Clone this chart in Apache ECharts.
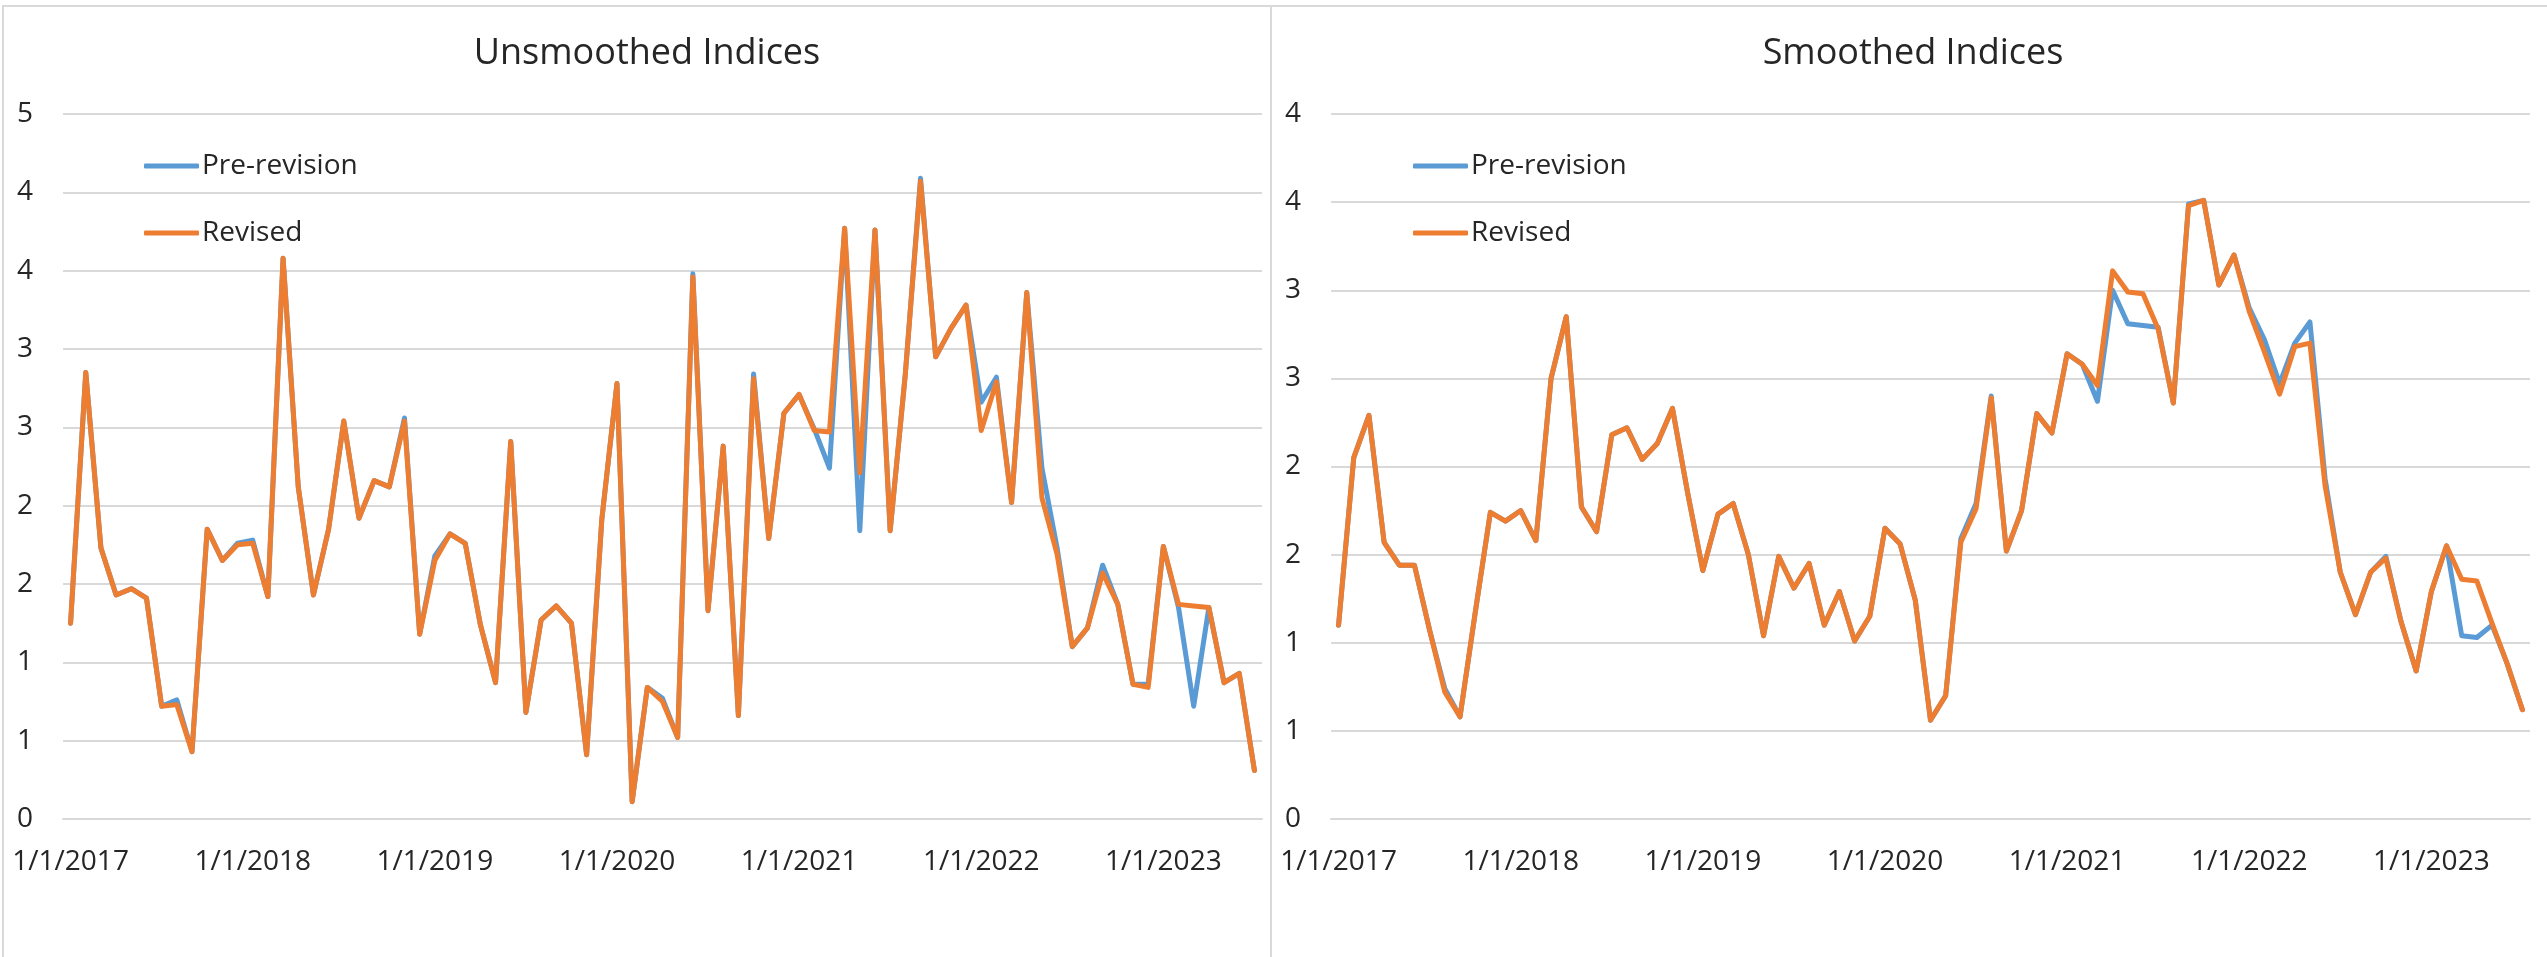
<!DOCTYPE html>
<html>
<head>
<meta charset="utf-8">
<title>Unsmoothed / Smoothed Indices</title>
<script src="https://cdn.jsdelivr.net/npm/echarts@6/dist/echarts.min.js"></script>
<style>
  html, body { margin: 0; padding: 0; background: #fff; }
  #wrap { position: relative; width: 2547px; height: 957px; overflow: hidden; }
  #unsmoothed { position: absolute; left: 0; top: 0; width: 1268px; height: 957px; }
  #smoothed { position: absolute; left: 1268px; top: 0; width: 1279px; height: 957px; }
  /* chart area borders like the excel export */
  .frame { position: absolute; pointer-events: none; border-color: #d9d9d9; border-style: solid; border-width: 0; }
  #frameLeft { left: 2px; top: 5px; width: 1266px; height: 960px; border-left-width: 2px; border-top-width: 2px; border-right-width: 2px; }
  #frameRight { left: 1268px; top: 5px; width: 1290px; height: 960px; border-top-width: 2px; }
</style>
</head>
<body>
<div id="wrap">
  <div id="unsmoothed"></div>
  <div id="smoothed"></div>
  <div class="frame" id="frameLeft"></div>
  <div class="frame" id="frameRight"></div>
</div>
<script>
// monthly dates, Jan 2017 - Jul 2023
const months = [
  '1/1/2017','2/1/2017','3/1/2017','4/1/2017','5/1/2017','6/1/2017','7/1/2017','8/1/2017','9/1/2017','10/1/2017','11/1/2017','12/1/2017',
  '1/1/2018','2/1/2018','3/1/2018','4/1/2018','5/1/2018','6/1/2018','7/1/2018','8/1/2018','9/1/2018','10/1/2018','11/1/2018','12/1/2018',
  '1/1/2019','2/1/2019','3/1/2019','4/1/2019','5/1/2019','6/1/2019','7/1/2019','8/1/2019','9/1/2019','10/1/2019','11/1/2019','12/1/2019',
  '1/1/2020','2/1/2020','3/1/2020','4/1/2020','5/1/2020','6/1/2020','7/1/2020','8/1/2020','9/1/2020','10/1/2020','11/1/2020','12/1/2020',
  '1/1/2021','2/1/2021','3/1/2021','4/1/2021','5/1/2021','6/1/2021','7/1/2021','8/1/2021','9/1/2021','10/1/2021','11/1/2021','12/1/2021',
  '1/1/2022','2/1/2022','3/1/2022','4/1/2022','5/1/2022','6/1/2022','7/1/2022','8/1/2022','9/1/2022','10/1/2022','11/1/2022','12/1/2022',
  '1/1/2023','2/1/2023','3/1/2023','4/1/2023','5/1/2023','6/1/2023','7/1/2023'
];

// unsmoothed indices
const unsmoothedPre = [
  1.25, 2.85, 1.73, 1.43, 1.47, 1.41, 0.72, 0.76, 0.43, 1.85, 1.65, 1.76,
  1.78, 1.42, 3.58, 2.12, 1.43, 1.85, 2.54, 1.92, 2.16, 2.12, 2.56, 1.18,
  1.68, 1.82, 1.76, 1.24, 0.87, 2.41, 0.68, 1.27, 1.36, 1.25, 0.41, 1.91,
  2.78, 0.11, 0.84, 0.77, 0.52, 3.48, 1.33, 2.38, 0.66, 2.84, 1.79, 2.59,
  2.71, 2.49, 2.24, 3.77, 1.84, 3.76, 1.84, 2.84, 4.09, 2.95, 3.13, 3.28,
  2.66, 2.82, 2.02, 3.36, 2.24, 1.73, 1.10, 1.22, 1.62, 1.37, 0.86, 0.86,
  1.74, 1.35, 0.72, 1.35, 0.87, 0.93, 0.31
];
const unsmoothedRev = [
  1.25, 2.85, 1.73, 1.43, 1.47, 1.41, 0.72, 0.73, 0.43, 1.85, 1.65, 1.75,
  1.76, 1.42, 3.58, 2.12, 1.43, 1.85, 2.54, 1.92, 2.16, 2.12, 2.54, 1.18,
  1.65, 1.82, 1.76, 1.24, 0.87, 2.41, 0.68, 1.27, 1.36, 1.25, 0.41, 1.91,
  2.78, 0.11, 0.84, 0.75, 0.52, 3.46, 1.33, 2.38, 0.66, 2.81, 1.79, 2.59,
  2.71, 2.48, 2.47, 3.77, 2.21, 3.76, 1.84, 2.84, 4.07, 2.95, 3.13, 3.28,
  2.48, 2.79, 2.02, 3.36, 2.05, 1.69, 1.10, 1.22, 1.57, 1.37, 0.86, 0.84,
  1.74, 1.37, 1.36, 1.35, 0.87, 0.93, 0.31
];

// smoothed indices
const smoothedPre = [
  1.10, 2.05, 2.29, 1.57, 1.44, 1.44, 1.07, 0.74, 0.58, 1.17, 1.74, 1.69,
  1.75, 1.58, 2.50, 2.85, 1.77, 1.63, 2.18, 2.22, 2.04, 2.13, 2.33, 1.85,
  1.41, 1.73, 1.79, 1.50, 1.04, 1.49, 1.31, 1.45, 1.10, 1.29, 1.01, 1.15,
  1.65, 1.56, 1.24, 0.56, 0.70, 1.59, 1.79, 2.40, 1.52, 1.75, 2.30, 2.19,
  2.64, 2.58, 2.37, 3.00, 2.81, 2.80, 2.79, 2.36, 3.49, 3.51, 3.03, 3.20,
  2.90, 2.72, 2.47, 2.70, 2.82, 1.93, 1.40, 1.16, 1.40, 1.49, 1.12, 0.84,
  1.29, 1.55, 1.04, 1.03, 1.10, 0.88, 0.62
];
const smoothedRev = [
  1.10, 2.05, 2.29, 1.57, 1.44, 1.44, 1.07, 0.72, 0.58, 1.17, 1.74, 1.69,
  1.75, 1.58, 2.50, 2.85, 1.77, 1.63, 2.18, 2.22, 2.04, 2.13, 2.33, 1.85,
  1.41, 1.73, 1.79, 1.50, 1.04, 1.49, 1.31, 1.45, 1.10, 1.29, 1.01, 1.15,
  1.65, 1.56, 1.24, 0.56, 0.70, 1.57, 1.76, 2.39, 1.52, 1.75, 2.30, 2.19,
  2.64, 2.58, 2.46, 3.11, 2.99, 2.98, 2.78, 2.36, 3.48, 3.51, 3.03, 3.20,
  2.88, 2.65, 2.41, 2.68, 2.70, 1.89, 1.40, 1.16, 1.40, 1.48, 1.12, 0.84,
  1.29, 1.55, 1.36, 1.35, 1.11, 0.88, 0.62
];

const seriesNames = ['Pre-revision', 'Revised'];

const FONT = '"Open Sans", "Liberation Sans", sans-serif';
const TEXT = '#262626';
const GRID = '#d9d9d9';

function buildOption(title, yMax, pre, rev) {
  const line = (name, data, color) => ({
    name: name,
    type: 'line',
    data: data,
    showSymbol: false,
    symbol: 'none',
    silent: true,
    lineStyle: { color: color, width: 5, cap: 'round', join: 'round' },
    itemStyle: { color: color }
  });
  return {
    animation: false,
    textStyle: { fontFamily: FONT },
    title: {
      text: title,
      left: 647,
      top: 36,
      padding: 0,
      textAlign: 'center',
      textStyle: { fontFamily: FONT, fontSize: 36, fontWeight: 'normal', color: TEXT }
    },
    legend: {
      orient: 'vertical',
      left: 144,
      top: 149,
      padding: 0,
      itemGap: 33,
      itemWidth: 55,
      itemHeight: 5,
      icon: 'roundRect',
      data: seriesNames,
      textStyle: { fontFamily: FONT, fontSize: 28, color: TEXT, lineHeight: 34, padding: [0, 0, 0, -2] }
    },
    grid: { left: 63, top: 114, width: 1199, height: 705 },
    xAxis: {
      type: 'category',
      data: months,
      boundaryGap: true,
      axisLine: { lineStyle: { color: GRID, width: 2 } },
      axisTick: { interval: 11, length: 10, lineStyle: { color: GRID, width: 2 } },
      axisLabel: { interval: 11, margin: 29, fontFamily: FONT, fontSize: 28, color: TEXT }
    },
    yAxis: {
      type: 'value',
      min: 0,
      max: yMax,
      interval: 0.5,
      axisLine: { show: false },
      axisTick: { show: false },
      splitLine: { lineStyle: { color: GRID, width: 2 } },
      axisLabel: {
        margin: 30,
        fontFamily: FONT,
        fontSize: 28,
        color: TEXT,
        formatter: v => String(Math.round(v))
      }
    },
    series: [
      line(seriesNames[0], pre, '#5B9BD5'),
      line(seriesNames[1], rev, '#ED7D31')
    ]
  };
}

const leftChart = echarts.init(document.getElementById('unsmoothed'));
leftChart.setOption(buildOption('Unsmoothed Indices', 4.5, unsmoothedPre, unsmoothedRev));

const rightOption = buildOption('Smoothed Indices', 4, smoothedPre, smoothedRev);
rightOption.title.left = 645;
rightOption.legend.left = 145;
const rightChart = echarts.init(document.getElementById('smoothed'));
rightChart.setOption(rightOption);
</script>
</body>
</html>
